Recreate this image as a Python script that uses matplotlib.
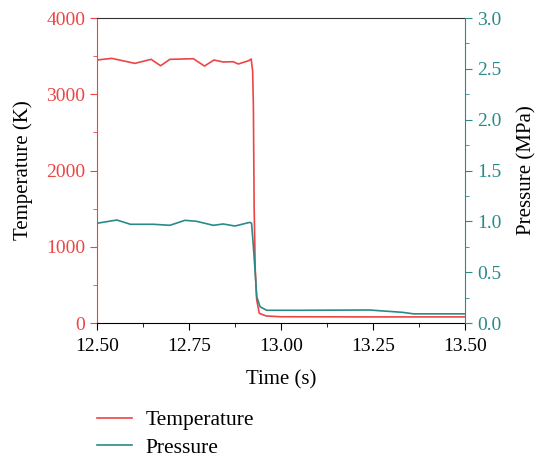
import matplotlib
matplotlib.use("Agg")
import matplotlib.pyplot as plt
from matplotlib.ticker import MultipleLocator, FormatStrFormatter

plt.rcParams['font.family'] = ['Liberation Serif', 'DejaVu Serif']

# Temperature series (time s, K)
temp_t = [12.50, 12.54, 12.603, 12.647, 12.673, 12.698, 12.762, 12.792, 12.818, 12.843,
          12.870, 12.884, 12.912, 12.919, 12.923, 12.925, 12.927, 12.930, 12.934, 12.941,
          12.960, 13.00, 13.25, 13.50]
temp_v = [3449, 3471, 3405, 3458, 3374, 3458, 3466, 3370, 3449, 3423,
          3427, 3397, 3440, 3462, 3300, 2837, 1525, 700, 302, 127,
          92, 82, 80, 80]

# Pressure series (time s, MPa)
pres_t = [12.50, 12.554, 12.591, 12.654, 12.698, 12.739, 12.771, 12.816, 12.843, 12.875,
          12.915, 12.920, 12.925, 12.930, 12.934, 12.943, 12.961, 13.05, 13.24, 13.33,
          13.36, 13.50]
pres_v = [0.981, 1.013, 0.971, 0.971, 0.961, 1.010, 1.000, 0.961, 0.974, 0.954,
          0.990, 0.981, 0.75, 0.49, 0.26, 0.16, 0.125, 0.125, 0.128, 0.105,
          0.09, 0.09]

red = '#EE4444'
teal = '#2A8A8A'

fig = plt.figure(figsize=(5.43, 4.57), dpi=100)
ax = fig.add_axes([0.1786, 0.2932, 0.6778, 0.6674])
ax2 = ax.twinx()

l1, = ax.plot(temp_t, temp_v, color=red, lw=1.2)
l2, = ax2.plot(pres_t, pres_v, color=teal, lw=1.2)

ax.set_xlim(12.5, 13.5)
ax.set_ylim(0, 4000)
ax2.set_ylim(0, 3.0)

ax.xaxis.set_major_locator(MultipleLocator(0.25))
ax.xaxis.set_minor_locator(MultipleLocator(0.125))
ax.yaxis.set_major_locator(MultipleLocator(1000))
ax.yaxis.set_minor_locator(MultipleLocator(500))
ax2.yaxis.set_major_locator(MultipleLocator(0.5))
ax2.yaxis.set_minor_locator(MultipleLocator(0.25))
ax.xaxis.set_major_formatter(FormatStrFormatter('%.2f'))
ax2.yaxis.set_major_formatter(FormatStrFormatter('%.1f'))

ax.spines['top'].set_color('#333333')
ax2.spines['top'].set_visible(False)
ax.spines['left'].set_color(red)
ax.spines['right'].set_visible(False)
ax2.spines['left'].set_visible(False)
ax2.spines['right'].set_color(teal)
ax2.spines['bottom'].set_visible(False)

ax.tick_params(axis='x', which='major', direction='out', length=5, labelsize=14, pad=6)
ax.tick_params(axis='x', which='minor', direction='out', length=3)
ax.tick_params(axis='y', which='major', colors=red, length=5, labelsize=14)
ax.tick_params(axis='y', which='minor', colors=red, length=3)
ax2.tick_params(axis='y', which='major', colors=teal, length=5, labelsize=14)
ax2.tick_params(axis='y', which='minor', colors=teal, length=3)

ax.set_xlabel('Time (s)', fontsize=15)
ax.set_ylabel('Temperature (K)', fontsize=15)
ax2.set_ylabel('Pressure (MPa)', fontsize=15)
ax.xaxis.set_label_coords(0.5, -0.154)
ax.yaxis.set_label_coords(-0.175, 0.5)
ax2.yaxis.set_label_coords(1.142, 0.5)

fig.legend([l1, l2], ['Temperature', 'Pressure'], loc='upper left',
           bbox_to_anchor=(97 / 543, 1 - 410 / 457), frameon=False, fontsize=15.5,
           handlelength=1.63, handletextpad=0.62, labelspacing=0.36, borderpad=0,
           borderaxespad=0)

fig.savefig('out.png', dpi=100)
